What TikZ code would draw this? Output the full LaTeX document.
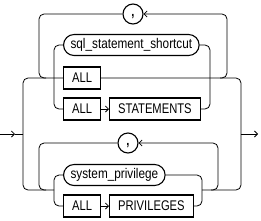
\documentclass[tikz,border=0pt]{standalone}
\usepackage{fontspec}
\setmainfont{Liberation Sans}[FakeStretch=0.8]
\newfontfamily\ntfont{Liberation Sans}[FakeStretch=0.84]
\usetikzlibrary{arrows.meta,shapes.misc}
\begin{document}
\begin{tikzpicture}[x=1pt,y=-1pt,
  font=\fontsize{14}{16}\selectfont,
  conn/.style={line width=0.8pt,rounded corners=5pt},
  arr/.style={-{Straight Barb[length=3pt,width=6pt,line width=0.8pt]}},
  kw/.style={draw,line width=1.1pt,rectangle,minimum height=22pt,inner xsep=8.5pt,inner ysep=0pt},
  nt/.style={draw,line width=1.1pt,rectangle,rounded corners=10.5pt,minimum height=21pt,inner xsep=7pt,inner ysep=0pt,font=\ntfont\fontsize{14}{16}\selectfont},
  sep/.style={draw,line width=1.1pt,circle,minimum size=20pt,inner sep=0pt,text height=5pt,text depth=1pt,font=\bfseries\fontsize{14}{16}\selectfont}]
\useasboundingbox (0,0) rectangle (261,220);
% nodes
\node[sep] (c1) at (133,14) {,};
\node[nt,anchor=west] (sql) at (63,45) {sql\_statement\_shortcut};
\node[kw,anchor=west] (all1) at (63,78) {ALL};
\node[kw,anchor=west] (all2) at (63,109) {ALL};
\node[kw,anchor=west] (stmts) at (109,109) {STATEMENTS};
\node[sep] (c2) at (128,143) {,};
\node[nt,anchor=west] (sysp) at (63,175) {system\_privilege};
\node[kw,anchor=west] (all3) at (63,206) {ALL};
\node[kw,anchor=west] (privs) at (109,206) {PRIVILEGES};
% coordinates
\coordinate (start) at (0,134);
\coordinate (tipL) at (15,134);
\coordinate (jL) at (23,134);
\coordinate (jR) at (241,134);
\coordinate (finish) at (258,134);
\coordinate (iL1) at (54,78);
\coordinate (iR1) at (210,78);
\coordinate (ltL) at (39,78);
\coordinate (ltLr) at (46,78);
\coordinate (ltR) at (227,78);
\coordinate (ltRl) at (220,78);
\coordinate (iL2) at (54,190);
\coordinate (iR2) at (202,190);
\coordinate (lbL) at (39,190);
\coordinate (lbLr) at (46,190);
\coordinate (lbR) at (218,190);
\coordinate (lbRl) at (211,190);
% main line
\draw[conn,arr] (start) -- (tipL);
\draw[conn] (tipL) -- (jL);
\draw[conn,arr] (jR) -- (finish);
% top group
\draw[conn] (jL) |- (all1.west);
\draw[conn] (all1.east) -| (jR);
\draw[conn] (c1.west) -| (ltL) -- (ltLr);
\draw[conn,arr] (ltRl) -- (ltR) |- (c1.east);
\draw[conn] (sql.west) -| (iL1) |- (all2.west);
\draw[conn] (sql.east) -| (iR1) |- (stmts.east);
\draw[conn,arr] (all2.east) -- (stmts.west);
% bottom group
\draw[conn] (jL) |- (iL2);
\draw[conn] (iR2) -| (jR);
\draw[conn] (c2.west) -| (lbL) -- (lbLr);
\draw[conn,arr] (lbRl) -- (lbR) |- (c2.east);
\draw[conn] (sysp.west) -| (iL2) |- (all3.west);
\draw[conn] (sysp.east) -| (iR2) |- (privs.east);
\draw[conn,arr] (all3.east) -- (privs.west);
\end{tikzpicture}
\end{document}
